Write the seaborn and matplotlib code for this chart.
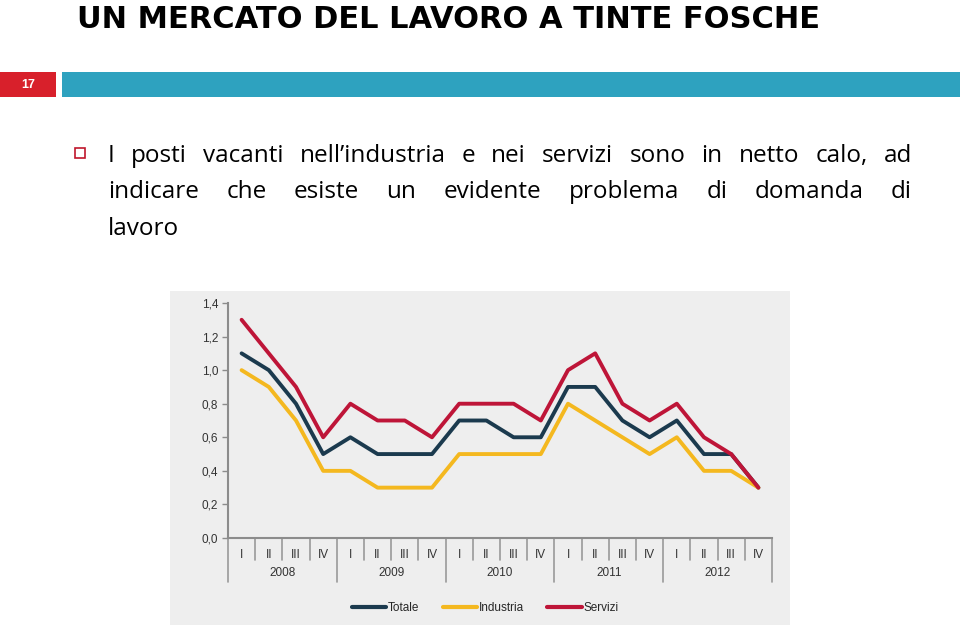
import matplotlib
matplotlib.use("Agg")
import matplotlib.pyplot as plt
from matplotlib.patches import Rectangle
from matplotlib.lines import Line2D
import seaborn as sns
import pandas as pd

sns.set_theme(style="white")
plt.rcParams['font.family'] = ['Liberation Sans', 'DejaVu Sans']

years = ["2008", "2009", "2010", "2011", "2012"]
quarters = ["I", "II", "III", "IV"]
totale = [1.1, 1.0, 0.8, 0.5, 0.6, 0.5, 0.5, 0.5, 0.7, 0.7, 0.6, 0.6, 0.9, 0.9, 0.7, 0.6, 0.7, 0.5, 0.5, 0.3]
industria = [1.0, 0.9, 0.7, 0.4, 0.4, 0.3, 0.3, 0.3, 0.5, 0.5, 0.5, 0.5, 0.8, 0.7, 0.6, 0.5, 0.6, 0.4, 0.4, 0.3]
servizi = [1.3, 1.1, 0.9, 0.6, 0.8, 0.7, 0.7, 0.6, 0.8, 0.8, 0.8, 0.7, 1.0, 1.1, 0.8, 0.7, 0.8, 0.6, 0.5, 0.3]
series_names = ["Totale", "Industria", "Servizi"]
colors = ["#1b3a4e", "#f4b81f", "#be1538"]

title = "UN MERCATO DEL LAVORO A TINTE FOSCHE"
slide_no = "17"
bullet_lines = ["I posti vacanti nell\u2019industria e nei servizi sono in netto calo, ad",
                "indicare che esiste un evidente problema di domanda di",
                "lavoro"]

W, H = 960, 625
fig = plt.figure(figsize=(9.6, 6.25), dpi=100)
fig.patch.set_facecolor("white")

def fx(x): return x / W
def fy(y): return 1 - y / H

# slide header
fig.text(fx(77), fy(28), title, fontsize=22, fontweight="bold", family=["DejaVu Sans"],
         va="baseline", ha="left", color="black")
fig.add_artist(Rectangle((0, fy(97)), fx(56), fy(72) - fy(97), transform=fig.transFigure,
                         facecolor="#d8202b", edgecolor="none"))
fig.add_artist(Rectangle((fx(62), fy(97)), 1 - fx(62), fy(72) - fy(97), transform=fig.transFigure,
                         facecolor="#2ea2bf", edgecolor="none"))
fig.text(fx(28), fy(84.5), slide_no, fontsize=9, fontweight="bold", color="white",
         ha="center", va="center")

# bullet
fig.add_artist(Rectangle((fx(75), fy(158)), fx(10), fy(148) - fy(158), transform=fig.transFigure,
                         facecolor="none", edgecolor="#c0172c", lw=1.2))

renderer = fig.canvas.get_renderer()
bfont = dict(fontsize=17.5, family=["Open Sans", "DejaVu Sans"], color="black", va="baseline")
line_base = [162, 198, 235]
x0, x1 = 108, 912
for i, line in enumerate(bullet_lines):
    words = line.split(" ")
    if i == len(bullet_lines) - 1:
        fig.text(fx(x0), fy(line_base[i]), line, ha="left", **bfont)
        continue
    arts = [fig.text(0, fy(line_base[i]), w, ha="left", **bfont) for w in words]
    widths = [a.get_window_extent(renderer).width for a in arts]
    gap = (x1 - x0 - sum(widths)) / (len(words) - 1)
    x = x0
    for a, w in zip(arts, widths):
        a.set_x(fx(x))
        x += w + gap

# chart image background
fig.add_artist(Rectangle((fx(170), fy(625)), fx(790) - fx(170), fy(291) - fy(625),
                         transform=fig.transFigure, facecolor="#eeeeee", edgecolor="none",
                         zorder=-10))

ax = fig.add_axes([fx(228), fy(538), fx(772) - fx(228), fy(303) - fy(538)])
ax.set_facecolor("none")
ax.set_zorder(5)

labels = [f"{q}\n{y}" for y in years for q in quarters]
df = pd.DataFrame({"idx": list(range(len(labels))) * 3,
                   "value": totale + industria + servizi,
                   "serie": [s for s in series_names for _ in labels]})
sns.lineplot(data=df, x="idx", y="value", hue="serie", palette=colors,
             hue_order=series_names, lw=2.8, ax=ax, legend=False, sort=False)

n = len(labels)
ax.set_xlim(-0.5, n - 0.5)
ax.set_ylim(0, 1.4)
ax.set_yticks([0, 0.2, 0.4, 0.6, 0.8, 1.0, 1.2, 1.4])
ax.set_yticklabels([f"{v:.1f}".replace(".", ",") for v in ax.get_yticks()], fontsize=8.5, color="#333333")
ax.tick_params(axis="y", length=4, width=1, color="#8c8c8c", pad=3, left=True)
ax.set_xticks(range(n))
ax.set_xticklabels([q for y in years for q in quarters], fontsize=8.5, color="#333333")
ax.tick_params(axis="x", length=0, pad=8)
ax.set_xlabel("")
ax.set_ylabel("")
for s in ["top", "right"]:
    ax.spines[s].set_visible(False)
for s in ["left", "bottom"]:
    ax.spines[s].set_color("#8c8c8c")
    ax.spines[s].set_linewidth(1.5)

tr = ax.get_xaxis_transform()
ax_h_px = 538 - 303
for k in range(n + 1):
    depth = 44 if k % 4 == 0 else 22
    ax.add_line(Line2D([k - 0.5, k - 0.5], [0, -depth / ax_h_px], transform=tr,
                       color="#999999", lw=1.2, clip_on=False))
for j, y in enumerate(years):
    ax.text(j * 4 + 1.5, -35 / ax_h_px, y, transform=tr, ha="center", va="center",
            fontsize=8.5, color="#333333")

handles = [Line2D([], [], color=c, lw=3) for c in colors]
fig.legend(handles, series_names, loc="center", bbox_to_anchor=(fx(485), fy(608)),
           ncol=3, frameon=False, fontsize=8.5, handlelength=2.9, handletextpad=0.15,
           columnspacing=2.0)

fig.savefig("out.png", dpi=100, facecolor="white")
